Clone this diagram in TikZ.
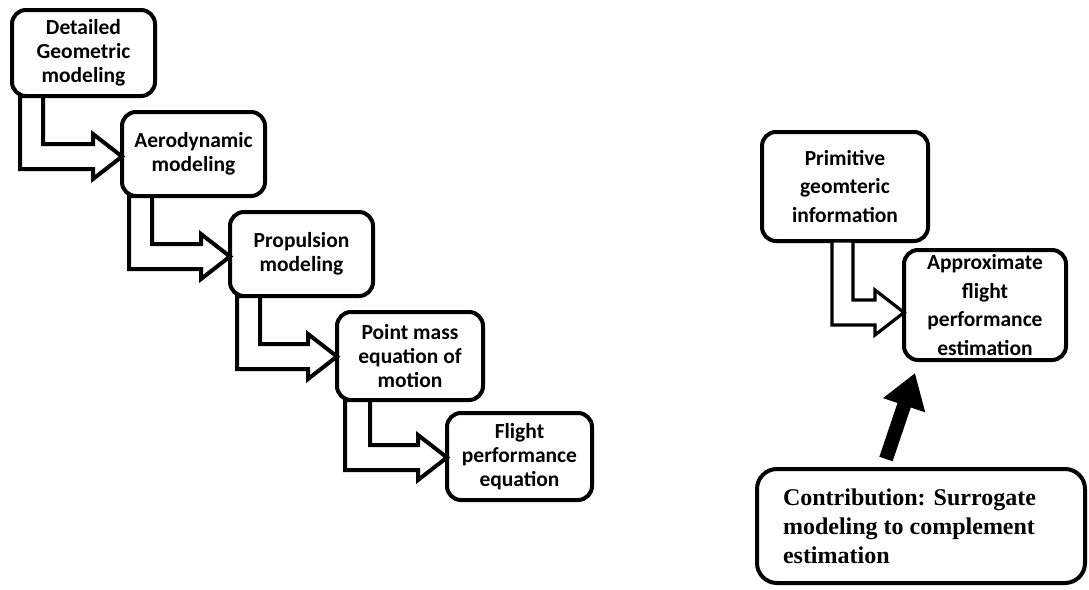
\documentclass[tikz,border=0pt]{standalone}
\usepackage{fontspec}
\setmainfont{Carlito}
\newfontfamily\serifb{Liberation Serif}
\usetikzlibrary{calc,arrows.meta}
\tikzset{
  box/.style={draw, line width=4pt, rounded corners=14pt, fill=white, align=center,
    inner sep=0pt, outer sep=0pt, font=\fontsize{21.5}{24}\selectfont\bfseries},
  rbox/.style={box, font=\fontsize{21.5}{28.5}\selectfont\bfseries},
  barrow/.style={draw, line width=4pt, line join=miter, fill=white},
  bigarrow/.style={line width=14pt, -{Triangle[length=34pt,width=42pt]}},
}
% #1 src, #2 tgt, #3 outer dx, #4 inner dx, #5 inner dy, #6 outer dy, #7 style
\newcommand\bentarrow[7]{%
  \draw[barrow,#7] let \p1=(#1.south west), \p2=(#2.west) in
    (\x1+#3pt,\y1) -- (\x1+#3pt,\y1-#6pt) -- (\x2-29pt,\y1-#6pt)
    -- (\x2-29pt,\y1-#6pt/2-#5pt/2-22.5pt) -- (\x2,\y1-#6pt/2-#5pt/2)
    -- (\x2-29pt,\y1-#6pt/2-#5pt/2+22.5pt) -- (\x2-29pt,\y1-#5pt)
    -- (\x1+#4pt,\y1-#5pt) -- (\x1+#4pt,\y1) -- cycle;}
\begin{document}
\begin{tikzpicture}[x=1pt,y=-1pt]
\useasboundingbox (0,0) rectangle (1089,589);
\node[box, minimum width=143pt, minimum height=86pt] (b1) at (83.5,53) {Detailed\\Geometric\\modeling};
\node[box, minimum width=143pt, minimum height=84pt] (b2) at (193.5,154) {Aerodynamic\\modeling};
\node[box, minimum width=143pt, minimum height=84pt] (b3) at (301.5,254) {Propulsion\\modeling};
\node[box, minimum width=146pt, minimum height=88pt] (b4) at (410,356) {Point mass\\equation of\\motion};
\node[box, minimum width=145pt, minimum height=87pt] (b5) at (519.5,456.5) {Flight\\performance\\equation};
\node[rbox, minimum width=166pt, minimum height=109pt] (p) at (845,186.5) {Primitive\\geomteric\\information};
\node[rbox, minimum width=162pt, minimum height=110pt] (a) at (985,305) {Approximate\\flight\\performance\\estimation};
\node[box, rounded corners=20pt, minimum width=328pt, minimum height=114pt, text width=276pt,
  inner xsep=26pt, align=flush left, font=\serifb\fontsize{24}{29}\selectfont\bfseries] (c) at (921,526)
  {Contribution: Surrogate\\modeling to complement\\estimation};
\bentarrow{b1}{b2}{8}{31}{48}{73}{}
\bentarrow{b2}{b3}{7}{30}{48}{73}{}
\bentarrow{b3}{b4}{7}{30}{48}{73}{}
\bentarrow{b4}{b5}{8}{33}{45}{70}{}
\bentarrow{p}{a}{70}{91}{59}{84}{line width=3.2pt}
\coordinate (ct) at ($(c.north)+(-35,-10)$);
\coordinate (ch) at ($(a.south)+(-70,13)$);
\draw[bigarrow] (ct) -- (ch);
\end{tikzpicture}
\end{document}
